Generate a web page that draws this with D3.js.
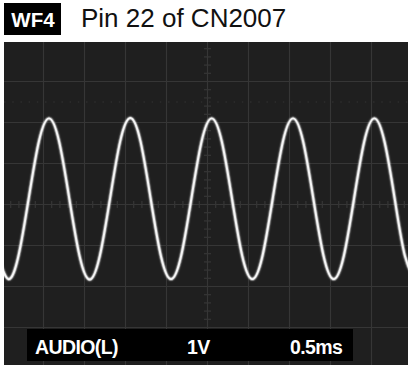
<!DOCTYPE html>
<html><head><meta charset="utf-8">
<script src="https://cdn.jsdelivr.net/npm/d3@7"></script>
<style>
html,body{margin:0;padding:0;background:#fff;}
svg{display:block;}
text{font-family:"Liberation Sans",Arial,Helvetica,sans-serif;}
</style></head>
<body>
<script>
// ---- data ----
const badge = "WF4";
const title = "Pin 22 of CN2007";
const channelLabel = "AUDIO(L)";
const voltsPerDiv = "1V";
const timePerDiv = "0.5ms";
// horizontal graticule: 10 divisions of 0.5 ms
const timeTicks = [0.5, 1.0, 1.5, 2.0, 2.5, 3.0, 3.5, 4.0, 4.5];
// vertical graticule: 8 divisions of 1 V
const voltTicks = [-3, -2, -1, 0, 1, 2, 3];
// trace samples (time in ms, voltage in V)
const timeMs = [-0.053, 0.071, 0.195, 0.319, 0.443, 0.567, 0.691, 0.815, 0.939, 1.063,
  1.187, 1.311, 1.435, 1.559, 1.683, 1.807, 1.931, 2.055, 2.179, 2.303,
  2.427, 2.551, 2.675, 2.799, 2.923, 3.047, 3.171, 3.295, 3.419, 3.543,
  3.667, 3.791, 3.915, 4.039, 4.163, 4.287, 4.411, 4.535, 4.659, 4.783,
  4.907, 5.031];
const volts = [-1.25, -1.82, -1.25, 0.14, 1.53, 2.10, 1.53, 0.14, -1.25, -1.83,
  -1.25, 0.14, 1.54, 2.11, 1.54, 0.14, -1.25, -1.82, -1.25, 0.14,
  1.53, 2.10, 1.53, 0.14, -1.25, -1.82, -1.25, 0.14, 1.53, 2.10,
  1.53, 0.14, -1.25, -1.82, -1.25, 0.14, 1.53, 2.10, 1.53, 0.14,
  -1.25, -1.82];

const W = 408, H = 365;
const svg = d3.select("body").append("svg").attr("width", W).attr("height", H);

const screen = {x0: 4, y0: 42, x1: 408, y1: 365};
const x = d3.scaleLinear().domain([0, 5]).range([2.5, 412.5]);
const y = d3.scaleLinear().domain([-4, 4]).range([368.5, 40.5]);

const defs = svg.append("defs");
defs.append("clipPath").attr("id", "scr").append("rect")
  .attr("x", screen.x0).attr("y", screen.y0)
  .attr("width", screen.x1 - screen.x0).attr("height", screen.y1 - screen.y0);
const glow = defs.append("filter").attr("id", "glow")
  .attr("x", "-10%").attr("y", "-10%").attr("width", "120%").attr("height", "120%");
glow.append("feGaussianBlur").attr("in", "SourceGraphic").attr("stdDeviation", 1.3).attr("result", "b");
const m = glow.append("feMerge");
m.append("feMergeNode").attr("in", "b");
m.append("feMergeNode").attr("in", "SourceGraphic");

// header
svg.append("rect").attr("x", 4).attr("y", 3).attr("width", 57).attr("height", 32).attr("fill", "#000");
svg.append("text").attr("x", 33).attr("y", 27).attr("text-anchor", "middle")
  .attr("font-size", 20.5).attr("font-weight", "bold").attr("fill", "#fff").text(badge);
svg.append("text").attr("x", 81).attr("y", 27)
  .attr("font-size", 26).attr("fill", "#111").text(title);

// screen
const g = svg.append("g").attr("clip-path", "url(#scr)");
g.append("rect").attr("x", screen.x0).attr("y", screen.y0)
  .attr("width", screen.x1 - screen.x0).attr("height", screen.y1 - screen.y0)
  .attr("fill", "#1f1f1f");

const gridCol = "#363636";
g.selectAll("line.vx").data(timeTicks).enter().append("line")
  .attr("x1", d => x(d)).attr("x2", d => x(d))
  .attr("y1", screen.y0).attr("y2", screen.y1)
  .attr("stroke", gridCol).attr("stroke-width", 1.2);
g.selectAll("line.hy").data(voltTicks).enter().append("line")
  .attr("y1", d => y(d)).attr("y2", d => y(d))
  .attr("x1", screen.x0).attr("x2", screen.x1)
  .attr("stroke", gridCol).attr("stroke-width", 1.2);

// dotted measurement line
g.append("line").attr("x1", screen.x0).attr("x2", screen.x1)
  .attr("y1", y(2.5)).attr("y2", y(2.5))
  .attr("stroke", "#343434").attr("stroke-width", 1.2).attr("stroke-dasharray", "1.5,6.7");

// minor ticks on centre lines
const minor = d3.range(0, 5.0001, 0.1);
g.selectAll("line.mt").data(minor).enter().append("line")
  .attr("x1", d => x(d)).attr("x2", d => x(d))
  .attr("y1", y(0) - 3.5).attr("y2", y(0) + 3.5)
  .attr("stroke", gridCol).attr("stroke-width", 1.2);
const minorV = d3.range(-4, 4.0001, 0.2);
g.selectAll("line.mv").data(minorV).enter().append("line")
  .attr("y1", d => y(d)).attr("y2", d => y(d))
  .attr("x1", x(2.5) - 3.5).attr("x2", x(2.5) + 3.5)
  .attr("stroke", gridCol).attr("stroke-width", 1.2);

// trace
const pts = timeMs.map((t, i) => [t, volts[i]]);
const line = d3.line().x(d => x(d[0])).y(d => y(d[1])).curve(d3.curveNatural);
g.append("path").attr("d", line(pts)).attr("fill", "none")
  .attr("stroke", "#ffffff").attr("stroke-opacity", 0.25).attr("stroke-width", 3.6);
g.append("path").attr("d", line(pts)).attr("fill", "none")
  .attr("stroke", "#f6f6f6").attr("stroke-width", 1.9).attr("filter", "url(#glow)");

// bottom label box
svg.append("rect").attr("x", 27).attr("y", 329).attr("width", 326).attr("height", 32).attr("fill", "#000");
const lab = svg.append("g").attr("font-size", 19.5).attr("font-weight", "bold")
  .attr("fill", "#fff").attr("letter-spacing", "-0.6");
lab.append("text").attr("x", 35).attr("y", 354).text(channelLabel);
lab.append("text").attr("x", 187).attr("y", 354).text(voltsPerDiv);
lab.append("text").attr("x", 290).attr("y", 354).text(timePerDiv);
</script>
</body></html>
